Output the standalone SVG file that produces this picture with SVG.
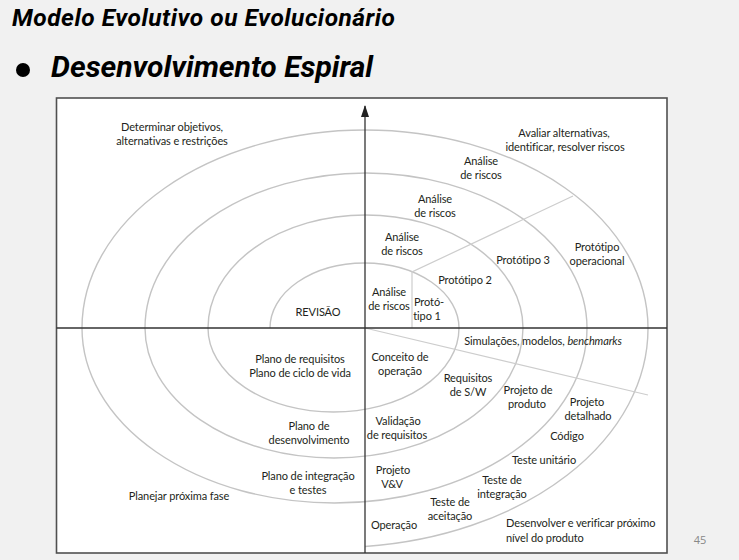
<svg xmlns="http://www.w3.org/2000/svg" width="739" height="560" viewBox="0 0 739 560">
<style>
.t{font-family:Lato,'Liberation Sans',sans-serif;font-size:11px;letter-spacing:-0.1px;fill:#231f20;text-anchor:middle}
.l{text-anchor:start}
.sp{fill:none;stroke:#c4c4c4;stroke-width:1.4}
.rd{fill:none;stroke:#cdcdcd;stroke-width:1.2}
.ax{fill:none;stroke:#333;stroke-width:1.3}
</style>
<defs>
<marker id="arr" viewBox="0 0 12 8" refX="11" refY="4" markerWidth="12" markerHeight="8" markerUnits="userSpaceOnUse" orient="auto">
<path d="M0,0 L12,4 L0,8 Z" fill="#222"/>
</marker>
</defs>
<rect x="0" y="0" width="739" height="560" fill="#f1f1f1"/>
<g id="header">
<text x="12" y="26" textLength="383" lengthAdjust="spacing" style="font-family:Roboto,'Liberation Sans',sans-serif;font-size:24.5px;font-weight:bold;font-style:italic;fill:#000">Modelo Evolutivo ou Evolucionário</text>
<circle cx="23" cy="70" r="7" fill="#000"/>
<text x="51" y="77" style="font-family:Roboto,'Liberation Sans',sans-serif;font-size:30px;font-weight:bold;font-style:italic;fill:#000">Desenvolvimento Espiral</text>
<text x="700" y="544" style="font-family:'Open Sans','Liberation Sans',sans-serif;font-size:11px;fill:#888;text-anchor:middle">45</text>
</g>
<rect id="frame" x="56.5" y="98" width="610.5" height="455" fill="#fff" stroke="#505050" stroke-width="1.6"/>
<g id="spiral">
<path class="sp" d="M270,328 A94.5,65 0 0 1 459,328 A125.5,84 0 0 1 208,328 A157.5,113 0 0 1 523,328 A189,130 0 0 1 145,328 A221,155 0 0 1 587,328 A252.5,175 0 0 1 82,328 A283,198 0 0 1 648,328 A314.5,219 0 0 1 365,546.5"/>
</g>
<g id="connectors">
<path class="rd" d="M412,328 L412,272 L573,196"/>
<path class="rd" d="M365,328 L648,395"/>
<line class="ax" x1="56.5" y1="328" x2="667" y2="328"/>
<line class="ax" x1="365" y1="553" x2="365" y2="106" marker-end="url(#arr)"/>
</g>
<g id="q-tl">
<text class="t" x="172" y="131">Determinar objetivos,</text>
<text class="t" x="172" y="145">alternativas e restrições</text>
<text class="t" x="318" y="316">REVISÃO</text>
</g>
<g id="q-tr">
<text class="t" x="564" y="137">Avaliar alternativas,</text>
<text class="t" x="565" y="151">identificar, resolver riscos</text>
<g id="ar4"><text class="t" x="481" y="165">Análise</text><text class="t" x="481" y="179">de riscos</text></g>
<g id="ar3"><text class="t" x="435" y="203">Análise</text><text class="t" x="435" y="217">de riscos</text></g>
<g id="ar2"><text class="t" x="402" y="241">Análise</text><text class="t" x="402" y="255">de riscos</text></g>
<g id="ar1"><text class="t" x="389" y="296">Análise</text><text class="t" x="389" y="310">de riscos</text></g>
<g id="p1"><text class="t" x="429" y="306">Protó-</text><text class="t" x="427" y="320">tipo 1</text></g>
<g id="p2"><text class="t" x="465" y="284">Protótipo 2</text></g>
<g id="p3"><text class="t" x="523" y="264">Protótipo 3</text></g>
<g id="pop"><text class="t" x="597" y="251">Protótipo</text><text class="t" x="597" y="265">operacional</text></g>
</g>
<g id="q-br">
<text class="t" x="543" y="345">Simulações, modelos, <tspan font-style="italic">benchmarks</tspan></text>
<g id="conc"><text class="t" x="400" y="361">Conceito de</text><text class="t" x="400" y="375">operação</text></g>
<g id="req"><text class="t" x="468" y="382">Requisitos</text><text class="t" x="468" y="396">de S/W</text></g>
<g id="pprod"><text class="t" x="528" y="394">Projeto de</text><text class="t" x="527" y="408">produto</text></g>
<g id="pdet"><text class="t" x="587" y="406">Projeto</text><text class="t" x="588" y="420">detalhado</text></g>
<g id="cod"><text class="t" x="567" y="440">Código</text></g>
<g id="tu"><text class="t" x="544" y="464">Teste unitário</text></g>
<g id="ti"><text class="t" x="502" y="484">Teste de</text><text class="t" x="502" y="498">integração</text></g>
<g id="val"><text class="t" x="398" y="425">Validação</text><text class="t" x="397" y="439">de requisitos</text></g>
<g id="vv"><text class="t" x="393" y="474">Projeto</text><text class="t" x="392" y="488">V&amp;V</text></g>
<g id="ta"><text class="t" x="450" y="506">Teste de</text><text class="t" x="450" y="520">aceitação</text></g>
<g id="op"><text class="t" x="394" y="529">Operação</text></g>
<g id="dev"><text class="t l" x="506" y="527">Desenvolver e verificar próximo</text><text class="t l" x="506" y="542">nível do produto</text></g>
</g>
<g id="q-bl">
<g id="preq"><text class="t" x="300" y="363">Plano de requisitos</text><text class="t" x="300" y="377">Plano de ciclo de vida</text></g>
<g id="pdes"><text class="t" x="309" y="430">Plano de</text><text class="t" x="309" y="444">desenvolvimento</text></g>
<g id="pint"><text class="t" x="308" y="480">Plano de integração</text><text class="t" x="308" y="494">e testes</text></g>
<g id="pnext"><text class="t" x="179" y="500">Planejar próxima fase</text></g>
</g>
</svg>
